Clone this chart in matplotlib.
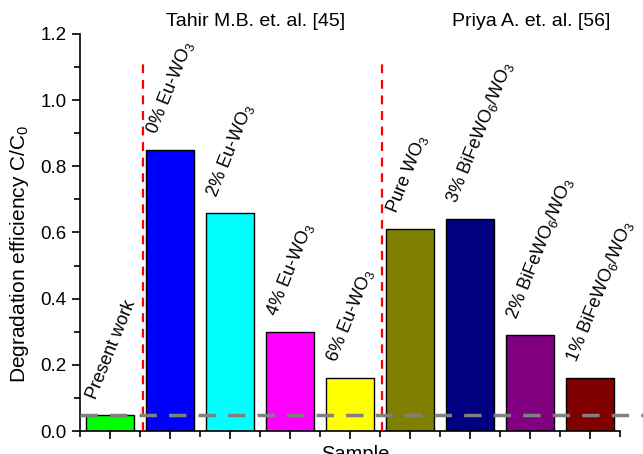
import matplotlib.pyplot as plt
from matplotlib.ticker import MultipleLocator

plt.rcParams['font.family'] = ['Liberation Sans', 'DejaVu Sans']
plt.rcParams['mathtext.fontset'] = 'custom'
plt.rcParams['mathtext.rm'] = 'Liberation Sans'
plt.rcParams['mathtext.it'] = 'Liberation Sans:italic'

# Samples and their C/C0 values
samples = ['Present work', '0% Eu-WO$_3$', '2% Eu-WO$_3$', '4% Eu-WO$_3$', '6% Eu-WO$_3$',
           'Pure WO$_3$', '3% BiFeWO$_6$/WO$_3$', '2% BiFeWO$_6$/WO$_3$', '1% BiFeWO$_6$/WO$_3$']
values = [0.05, 0.85, 0.66, 0.30, 0.16, 0.61, 0.64, 0.29, 0.16]
colors = ['#00FF00', '#0000FF', '#00FFFF', '#FF00FF', '#FFFF00',
          '#808000', '#000080', '#800080', '#800000']
groups = ['Tahir M.B. et. al. [45]', 'Priya A. et. al. [56]']
present_level = 0.05

fig = plt.figure(figsize=(6.43, 4.54), dpi=100)
ax = fig.add_axes([0.1244, 0.0505, 0.84, 0.875])

x = list(range(1, len(values) + 1))
ax.bar(x, values, width=0.8, color=colors, edgecolor='black', linewidth=1.0, zorder=2)

for xi, v, s in zip(x, values, samples):
    ax.text(xi - 0.23, v + 0.045, s, rotation=68, rotation_mode='anchor',
            ha='left', va='baseline', fontsize=13)

# separators between the literature groups
for xs in (1.55, 5.53):
    ax.plot([xs, xs], [0, 1.12], color='red', linestyle=(0, (4, 3)), linewidth=1.6, zorder=3)

ax.axhline(present_level, xmin=0, xmax=1.045, color='gray', linestyle=(0, (5, 3.5)),
           linewidth=2.5, clip_on=False, zorder=4)

ax.text(3.42, 1.238, groups[0], ha='center', va='center', fontsize=14)
ax.text(8.02, 1.238, groups[1], ha='center', va='center', fontsize=14)

ax.set_xlim(0.5, 9.5)
ax.set_ylim(0, 1.2)
ax.set_xticks(x)
ax.set_xticklabels([])
ax.set_xticks([i + 0.5 for i in range(0, 10)], minor=True)
ax.yaxis.set_major_locator(MultipleLocator(0.2))
ax.yaxis.set_minor_locator(MultipleLocator(0.1))
ax.tick_params(which='major', direction='out', length=6, width=1.2, labelsize=13.5)
ax.tick_params(which='minor', direction='out', length=4, width=1.2)
ax.spines['top'].set_visible(False)
ax.spines['right'].set_visible(False)
ax.spines['left'].set_linewidth(1.2)
ax.spines['bottom'].set_linewidth(1.2)

ax.set_ylabel('Degradation efficiency C/C$_0$', fontsize=15, labelpad=6)
ax.yaxis.set_label_coords(-0.09, 0.447)
ax.set_xlabel('Sample', fontsize=14.5, labelpad=0)
ax.xaxis.set_label_coords(0.51, -0.035)

fig.savefig('out.png', dpi=100)
